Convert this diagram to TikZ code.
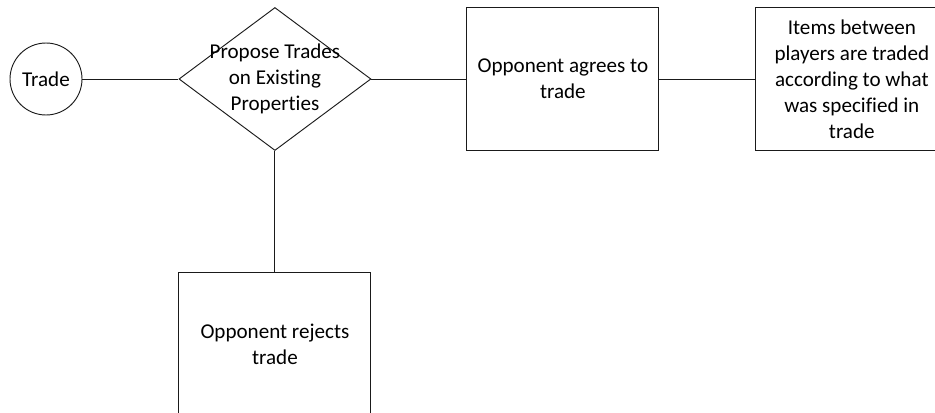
\documentclass[tikz,border=0pt]{standalone}
\usepackage{fontspec}
\setmainfont{Carlito}[Ligatures=CommonOff]
\usetikzlibrary{positioning,shapes.geometric}
\definecolor{edgecol}{HTML}{1A1A1A}
\newcommand{\flowfont}{\fontsize{18}{22.2}\selectfont}
\tikzset{
  every node/.style={font=\flowfont, text=black},
  startnode/.style={circle, draw=edgecol, line width=0.8pt,
    minimum size=2.16cm, inner sep=0pt},
  choicenode/.style={diamond, draw=edgecol, line width=0.8pt,
    minimum width=5.76cm, minimum height=4.29cm, inner sep=0pt},
  outcomebox/.style={rectangle, draw=edgecol, line width=0.8pt,
    minimum width=5.76cm, minimum height=4.29cm, align=center},
  link/.style={draw=edgecol, line width=0.8pt}
}

\begin{document}
\begin{tikzpicture}

% ---------- frame ----------
\useasboundingbox (0,0) rectangle (28.05,-12.39);
\clip (0,0) rectangle (28.05,-12.39);

% ---------- nodes ----------
\node[startnode] (trade) at (1.38,-2.37) {Trade};
\node[choicenode, right=2.88cm of trade,
  label={[align=center]center:Propose Trades\\on Existing\\Properties}]
  (propose) {};
\node[outcomebox, right=2.85cm of propose] (agree)
  {Opponent agrees to\\trade};
\node[outcomebox, right=2.88cm of agree] (traded)
  {Items between\\players are traded\\according to what\\was specified in\\trade};
\node[outcomebox, below=3.63cm of propose] (reject)
  {Opponent rejects\\trade};

% ---------- connectors ----------
\draw[link] (trade) -- (propose);
\draw[link] (propose) -- (agree);
\draw[link] (agree) -- (traded);
\draw[link] (propose) -- (reject);

\end{tikzpicture}
\end{document}
